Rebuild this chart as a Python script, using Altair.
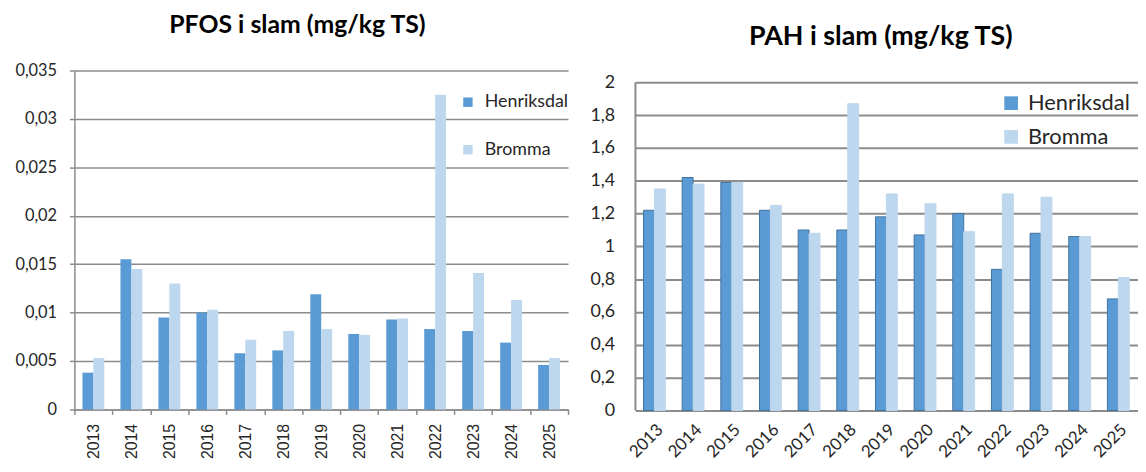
import altair as alt
import pandas as pd

years = ["2013", "2014", "2015", "2016", "2017", "2018", "2019",
         "2020", "2021", "2022", "2023", "2024", "2025"]
stations = ["Henriksdal", "Bromma"]

pfos_henriksdal = [0.0038, 0.0155, 0.0095, 0.0100, 0.0058, 0.0061, 0.0119,
                   0.0078, 0.0093, 0.0083, 0.0081, 0.0069, 0.0046]
pfos_bromma = [0.0053, 0.0145, 0.0130, 0.0103, 0.0072, 0.0081, 0.0083,
               0.0077, 0.0094, 0.0325, 0.0141, 0.0113, 0.0053]

pah_henriksdal = [1.22, 1.42, 1.39, 1.22, 1.10, 1.10, 1.18,
                  1.07, 1.20, 0.86, 1.08, 1.06, 0.68]
pah_bromma = [1.35, 1.38, 1.39, 1.25, 1.08, 1.87, 1.32,
              1.26, 1.09, 1.32, 1.30, 1.06, 0.81]

pfos_ticks = [0, 0.005, 0.01, 0.015, 0.02, 0.025, 0.03, 0.035]
pah_ticks = [0, 0.2, 0.4, 0.6, 0.8, 1, 1.2, 1.4, 1.6, 1.8, 2]

colors = ["#5B9BD5", "#BDD7EE"]
grid_gray = "#8c8c8c"
label_col = "#262626"
comma_expr = "replace(format(datum.value, '~g'), '.', ',')"


def long_df(h, b):
    rows = []
    for i, y in enumerate(years):
        rows.append({"year": y, "station": "Henriksdal", "value": h[i]})
        rows.append({"year": y, "station": "Bromma", "value": b[i]})
    return pd.DataFrame(rows)


pfos_df = long_df(pfos_henriksdal, pfos_bromma)
pah_df = long_df(pah_henriksdal, pah_bromma)

# ---------------- Left chart: PFOS ----------------
left = alt.Chart(pfos_df).mark_bar().encode(
    x=alt.X("year:N", sort=years,
            scale=alt.Scale(paddingInner=0, paddingOuter=0),
            axis=alt.Axis(title=None, labelAngle=-90, labelFont="Liberation Sans",
                          labelFontSize=16, labelColor=label_col,
                          tickBand="extent", ticks=True, tickSize=5,
                          tickColor=grid_gray, tickWidth=1.5,
                          domainColor=grid_gray, domainWidth=1.5,
                          labelPadding=9, grid=False)),
    xOffset=alt.XOffset("station:N", sort=stations,
                        scale=alt.Scale(paddingInner=0, paddingOuter=0.74)),
    y=alt.Y("value:Q", scale=alt.Scale(domain=[0, 0.035], nice=False),
            axis=alt.Axis(title=None, values=pfos_ticks, labelExpr=comma_expr,
                          labelOverlap=False,
                          grid=True, gridColor=grid_gray, gridWidth=1.5,
                          domain=True, domainColor=grid_gray, domainWidth=1.5,
                          ticks=True, tickSize=5, tickColor=grid_gray, tickWidth=1.5,
                          labelPadding=13, labelFont="Lato", labelFontSize=16.5,
                          labelColor=label_col)),
    color=alt.Color("station:N", sort=stations,
                    scale=alt.Scale(domain=stations, range=colors),
                    legend=alt.Legend(title=None, orient="none", legendX=388,
                                      legendY=23, symbolType="square",
                                      symbolSize=90, symbolStrokeWidth=0,
                                      labelFont="Lato", labelFontSize=18,
                                      labelColor=label_col, rowPadding=30,
                                      labelOffset=8)),
).properties(
    width=498, height=342,
    title=alt.TitleParams("PFOS i slam (mg/kg TS)", font="Lato", fontSize=25,
                          fontWeight="bold", color="#000000", anchor="middle",
                          dx=-24, offset=25),
)

# ---------------- Right chart: PAH ----------------
pah_axis = alt.Axis(title=None, values=pah_ticks, labelExpr=comma_expr,
                    labelOverlap=False,
                    grid=True, gridColor=grid_gray, gridWidth=2,
                    domain=False, ticks=False, labelPadding=21,
                    labelFont="Lato", labelFontSize=18,
                    labelColor=label_col)

pah_bars = alt.Chart(pah_df).mark_bar(strokeWidth=1).encode(
    x=alt.X("year:N", sort=years,
            scale=alt.Scale(paddingInner=0, paddingOuter=0),
            axis=alt.Axis(title=None, labelAngle=-45, labelFont="Lato",
                          labelFontSize=17, labelColor=label_col,
                          ticks=False, domainColor=grid_gray, domainWidth=2,
                          labelPadding=11, grid=False)),
    xOffset=alt.XOffset("station:N", sort=stations,
                        scale=alt.Scale(paddingInner=0, paddingOuter=0.71)),
    y=alt.Y("value:Q", scale=alt.Scale(domain=[0, 2.0725], nice=False),
            axis=pah_axis),
    color=alt.Color("station:N", sort=stations,
                    scale=alt.Scale(domain=stations, range=colors),
                    legend=alt.Legend(title=None, orient="none", legendX=368,
                                      legendY=22, symbolType="square",
                                      symbolSize=190, symbolStrokeWidth=0,
                                      labelFont="Lato", labelFontSize=22,
                                      labelColor=label_col, rowPadding=12,
                                      labelOffset=6)),
    stroke=alt.Stroke("station:N", sort=stations,
                      scale=alt.Scale(domain=stations, range=["#41719C", "#BDD7EE"]),
                      legend=None),
)

pah_axis_line = alt.Chart(pd.DataFrame({"lo": [pah_ticks[0]], "hi": [pah_ticks[-1]]})).mark_rule(
    color=grid_gray, strokeWidth=2
).encode(
    y=alt.Y("lo:Q", axis=pah_axis),
    y2="hi:Q", x=alt.value(0),
)

right = alt.layer(pah_bars, pah_axis_line).properties(
    width=507, height=343,
    title=alt.TitleParams("PAH i slam (mg/kg TS)", font="Lato", fontSize=27,
                          fontWeight="bold", color="#000000", anchor="middle",
                          dx=-6, offset=20),
)

chart = alt.hconcat(left, right, spacing=68, bounds="flush").resolve_legend(
    color="independent"
).configure_view(stroke=None).properties(
    padding={"left": 6, "top": 3, "right": 0, "bottom": 0}
)

chart.save("out.html", embed_options={"renderer": "svg", "actions": False})
